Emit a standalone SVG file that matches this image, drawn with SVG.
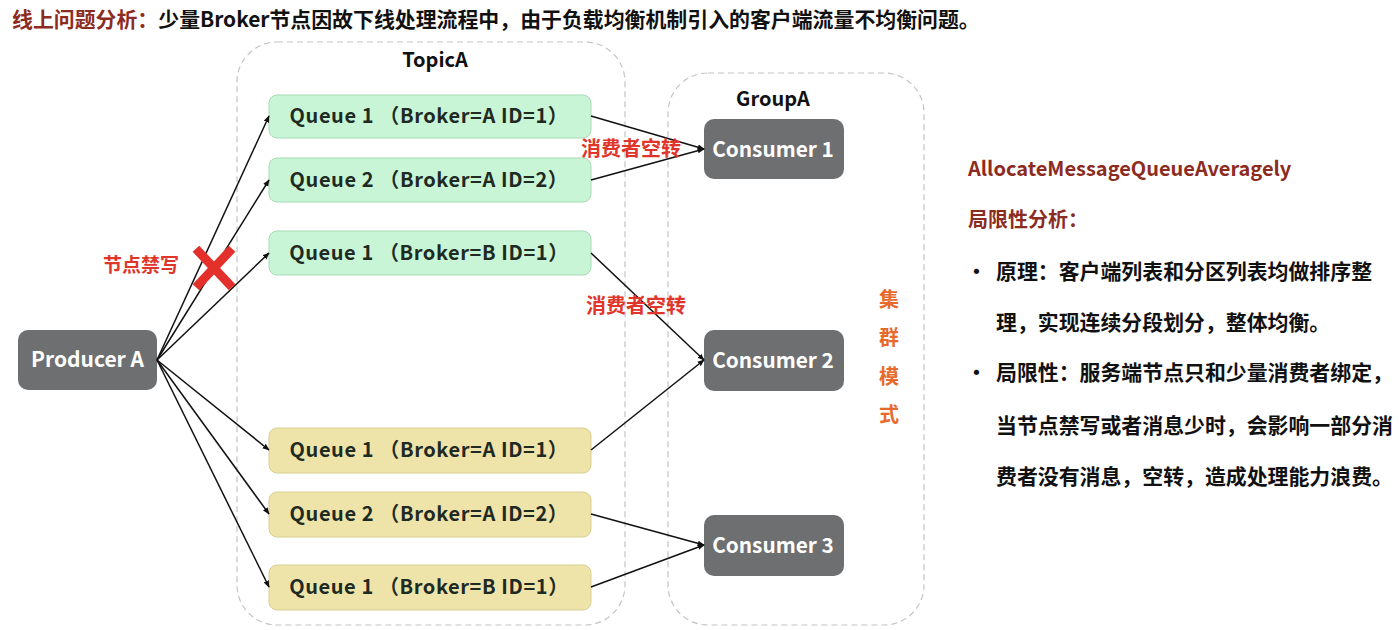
<svg xmlns="http://www.w3.org/2000/svg" width="1400" height="630" viewBox="0 0 1400 630">
<style>
text{font-family:"Noto Sans CJK SC","Noto Sans",sans-serif;font-weight:700}
.cont{fill:none;stroke:#c4c4c4;stroke-width:1.2;stroke-dasharray:6 4}
.green{fill:#c8f5d5;stroke:#a9dbb5;stroke-width:1}
.yellow{fill:#eee4a9;stroke:#d9cf91;stroke-width:1}
.dark{fill:#6e6f70}
.qt{font-size:20px;letter-spacing:0.6px;fill:#1e2a22;text-anchor:middle;dominant-baseline:central}
.ct{font-size:20.8px;fill:#fff;text-anchor:middle;dominant-baseline:central;font-weight:600}
.red{fill:#e0352b;font-size:19px}
.orange{fill:#e8692b;font-size:20px;text-anchor:middle}
.dr{fill:#8c2b1f}
.body{font-size:20.9px;fill:#111}
.conn{stroke:#111;stroke-width:1.5;fill:none;marker-end:url(#ah)}
</style>
<defs>
<marker id="ah" viewBox="0 0 10 10" refX="9" refY="5" markerWidth="7" markerHeight="7" markerUnits="userSpaceOnUse" orient="auto"><path d="M0,1 L10,5 L0,9 Z" fill="#111"/></marker>
</defs>
<rect width="1400" height="630" fill="#fff"/>
<text x="12" y="27" style="font-size:20.9px"><tspan class="dr">线上问题分析：</tspan><tspan fill="#111">少量Broker节点因故下线处理流程中，由于负载均衡机制引入的客户端流量不均衡问题。</tspan></text>
<g id="topicA"><rect class="cont" x="237" y="42" width="388" height="583" rx="40"/><text x="435" y="67" style="font-size:20px" text-anchor="middle" fill="#111">TopicA</text></g>
<g id="groupA"><rect class="cont" x="668" y="73" width="256" height="552" rx="40"/><text x="773" y="106" style="font-size:20px" text-anchor="middle" fill="#111">GroupA</text></g>
<g id="producerA"><rect class="dark" x="18" y="330" width="139" height="60" rx="10"/><text class="ct" x="87.5" y="358" style="font-size:21px">Producer A</text></g>
<g id="q1a"><rect class="green" x="269" y="95" width="322" height="43" rx="8"/><text class="qt" x="429" y="114.5">Queue 1 （Broker=A ID=1）</text></g>
<g id="q2a"><rect class="green" x="269" y="158" width="322" height="44" rx="8"/><text class="qt" x="429" y="178.5">Queue 2 （Broker=A ID=2）</text></g>
<g id="q1b"><rect class="green" x="269" y="231" width="322" height="44" rx="8"/><text class="qt" x="429" y="251.5">Queue 1 （Broker=B ID=1）</text></g>
<g id="q1a2"><rect class="yellow" x="269" y="428" width="322" height="45" rx="8"/><text class="qt" x="429" y="448.5">Queue 1 （Broker=A ID=1）</text></g>
<g id="q2a2"><rect class="yellow" x="269" y="492" width="322" height="45" rx="8"/><text class="qt" x="429" y="512.5">Queue 2 （Broker=A ID=2）</text></g>
<g id="q1b2"><rect class="yellow" x="269" y="565" width="322" height="45" rx="8"/><text class="qt" x="429" y="585.5">Queue 1 （Broker=B ID=1）</text></g>
<g id="consumer1"><rect class="dark" x="704" y="119" width="140" height="60" rx="10"/><text class="ct" x="773" y="147.5">Consumer 1</text></g>
<g id="consumer2"><rect class="dark" x="704" y="330" width="140" height="61" rx="10"/><text class="ct" x="773" y="358.5">Consumer 2</text></g>
<g id="consumer3"><rect class="dark" x="704" y="515" width="140" height="61" rx="10"/><text class="ct" x="773" y="543.5">Consumer 3</text></g>
<g id="connectors">
<line class="conn" x1="157" y1="360" x2="269" y2="116"/>
<line class="conn" x1="157" y1="360" x2="269" y2="180"/>
<line class="conn" x1="157" y1="360" x2="269" y2="253"/>
<line class="conn" x1="157" y1="360" x2="269" y2="450"/>
<line class="conn" x1="157" y1="360" x2="269" y2="514"/>
<line class="conn" x1="157" y1="360" x2="269" y2="587"/>
<line class="conn" x1="591" y1="116" x2="704" y2="149"/>
<line class="conn" x1="591" y1="180" x2="704" y2="149"/>
<line class="conn" x1="591" y1="253" x2="704" y2="360"/>
<line class="conn" x1="591" y1="450" x2="704" y2="360"/>
<line class="conn" x1="591" y1="514" x2="704" y2="545"/>
<line class="conn" x1="591" y1="587" x2="704" y2="545"/>
</g>
<g id="blocked">
<path d="M199,252 L229,284 M229,252 L199,284" stroke="#e3302a" stroke-width="9" stroke-linecap="square" fill="none"/>
<text class="red" x="103" y="272">节点禁写</text>
</g>
<text class="red" x="581" y="156" style="font-size:20px">消费者空转</text>
<text class="red" x="586" y="313" style="font-size:20px">消费者空转</text>
<g id="cluster"><text class="orange" x="889" y="307">集</text><text class="orange" x="889" y="345">群</text><text class="orange" x="889" y="384">模</text><text class="orange" x="889" y="422">式</text></g>
<g id="notes">
<text class="dr" x="968" y="176" style="font-size:20px">AllocateMessageQueueAveragely</text>
<text class="dr" x="968" y="227" style="font-size:20px">局限性分析：</text>
<text class="body" x="966" y="279">•</text>
<text class="body" x="996" y="279">原理：客户端列表和分区列表均做排序整</text>
<text class="body" x="996" y="330">理，实现连续分段划分，整体均衡。</text>
<text class="body" x="966" y="380">•</text>
<text class="body" x="996" y="380">局限性：服务端节点只和少量消费者绑定，</text>
<text class="body" x="996" y="433">当节点禁写或者消息少时，会影响一部分消</text>
<text class="body" x="996" y="484">费者没有消息，空转，造成处理能力浪费。</text>
</g>
</svg>
